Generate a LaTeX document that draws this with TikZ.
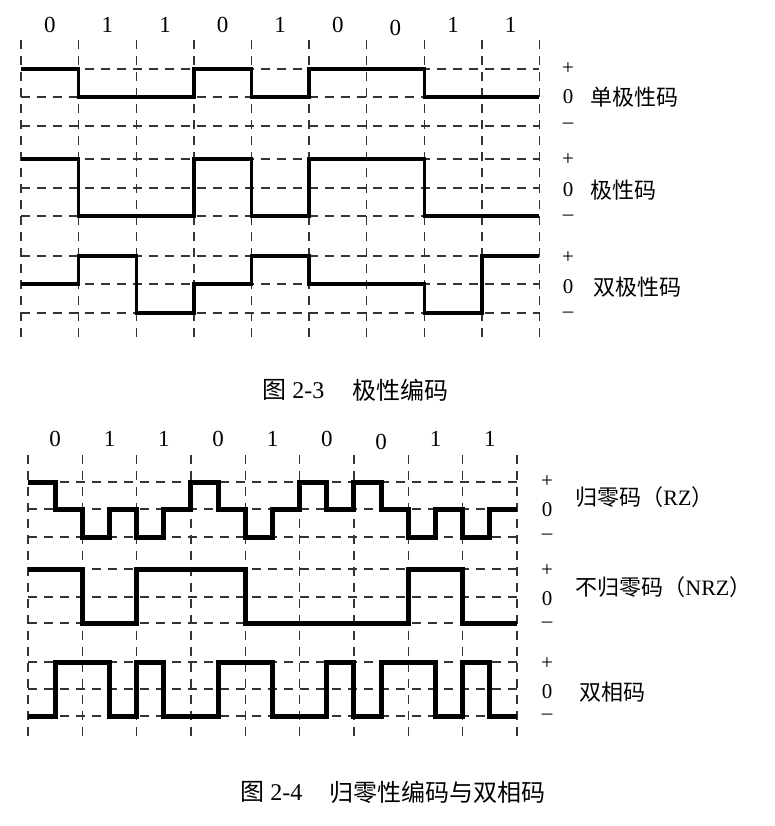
\documentclass[tikz,border=0pt]{standalone}
\usepackage{fontspec}
\setmainfont{Liberation Serif}
\newfontfamily\cjk{Noto Sans CJK SC}
\usetikzlibrary{positioning}

\begin{document}
\begin{tikzpicture}[x=0.5pt,y=-0.5pt,
    gridline/.style={draw=black!80,line width=0.7pt,dash pattern=on 4.5pt off 3.5pt},
    sig/.style={line width=1.7pt,line join=miter},
    sigb/.style={line width=2.5pt,line join=miter},
    bit/.style={inner sep=0pt,font=\fontsize{11.5}{13}\selectfont},
    lvl/.style={inner sep=0pt,font=\fontsize{10.5}{12}\selectfont},
    codelabel/.style={inner sep=0pt,font=\fontsize{11}{13}\selectfont},
    captext/.style={inner sep=0pt,font=\fontsize{12}{14}\selectfont}]

    \useasboundingbox (0,0) rectangle (775,826);

    % Polar coding: grid
    \foreach \i in {0,...,9} {
        \draw[gridline] ({21+57.6*\i},40) -- ({21+57.6*\i},342);
    }
    \foreach \y in {69,97,126,159,188,216,256,284,313} {
        \draw[gridline] (21,\y) -- (539.4,\y);
    }

    % Polar coding: bits
    \foreach \b/\y [count=\i from 0] in {0/25,1/25,1/25,0/25,1/25,0/25,0/28,1/25,1/25} {
        \node[bit] (ta\i) at ({49.8+57.6*\i},\y) {\b};
    }

    % Unipolar
    \draw[sig] (21,69) -| (78.6,97) -| (193.8,69) -| (251.4,97) -| (309,69)
        -| (424.2,97) -- (539.4,97);
    % Polar
    \draw[sig] (21,159) -| (78.6,216) -| (193.8,159) -| (251.4,216) -| (309,159)
        -| (424.2,216) -- (539.4,216);
    % Bipolar
    \draw[sig] (21,284) -| (78.6,256) -| (136.2,313) -| (193.8,284) -| (251.4,256)
        -| (309,284) -| (424.2,313) -| (481.8,256) -- (539.4,256);

    % Level marks and names
    \node[lvl] (up1) at (568,69) {+};
    \node[lvl] (uz1) at (568,97) {0};
    \node[lvl] (um1) at (568,126) {–};
    \node[codelabel,right=8pt of uz1] (lab1) {\cjk 单极性码};

    \node[lvl] (up2) at (568,160) {+};
    \node[lvl] (uz2) at (568,190) {0};
    \node[lvl] (um2) at (568,218) {–};
    \node[codelabel,right=8pt of uz2] (lab2) {\cjk 极性码};

    \node[lvl] (up3) at (568,258) {+};
    \node[lvl] (uz3) at (568,287) {0};
    \node[lvl] (um3) at (568,315) {–};
    \node[codelabel,right=9.5pt of uz3] (lab3) {\cjk 双极性码};

    \node[captext,anchor=west] (fig3) at (262,390) {{\cjk 图} 2-3};
    \node[captext,right=13.5pt of fig3] (fig3t) {\cjk 极性编码};

    % RZ and biphase: grid
    \foreach \i in {0,...,9} {
        \draw[gridline] ({28+54.33*\i},455) -- ({28+54.33*\i},743);
    }
    \foreach \y in {482,509,537,569,597,623,662,689,716} {
        \draw[gridline] (28,\y) -- (517,\y);
    }

    % RZ and biphase: bits
    \foreach \b/\y [count=\i from 0] in {0/439,1/439,1/439,0/439,1/439,0/439,0/442,1/439,1/439} {
        \node[bit] (ba\i) at ({55.2+54.33*\i},\y) {\b};
    }

    % RZ (half bit steps)
    \draw[sigb] (28,482)
        \foreach \l [count=\k] in {509,537,509,537,509,482,509,537,509,482,509,482,509,537,509,537,509} {
            -| ({28+27.165*\k},\l)
        } -- (517,509);
    % NRZ
    \draw[sigb] (28,569)
        \foreach \l [count=\k] in {623,569,569,623,623,623,569,623} {
            -| ({28+54.33*\k},\l)
        } -- (517,623);
    % Biphase (half bit steps)
    \draw[sigb] (28,716)
        \foreach \l [count=\k] in {662,662,716,662,716,716,662,662,716,716,662,716,662,662,716,662,716} {
            -| ({28+27.165*\k},\l)
        } -- (517,716);

    % Level marks and names
    \node[lvl] (bp1) at (547,482) {+};
    \node[lvl] (bz1) at (547,510) {0};
    \node[lvl] (bm1) at (547,537) {–};
    \node[codelabel,anchor=west] (blab1) at (575,497) {{\cjk 归零码（}RZ{\cjk ）}};

    \node[lvl] (bp2) at (547,571) {+};
    \node[lvl] (bz2) at (547,599) {0};
    \node[lvl] (bm2) at (547,625) {–};
    \node[codelabel,anchor=west] (blab2) at (575,587) {{\cjk 不归零码（}NRZ{\cjk ）}};

    \node[lvl] (bp3) at (547,664) {+};
    \node[lvl] (bz3) at (547,692) {0};
    \node[lvl] (bm3) at (547,717) {–};
    \node[codelabel,anchor=west] (blab3) at (579,692) {\cjk 双相码};

    \node[captext,anchor=west] (fig4) at (240,792) {{\cjk 图} 2-4};
    \node[captext,right=13pt of fig4] (fig4t) {\cjk 归零性编码与双相码};
\end{tikzpicture}
\end{document}
